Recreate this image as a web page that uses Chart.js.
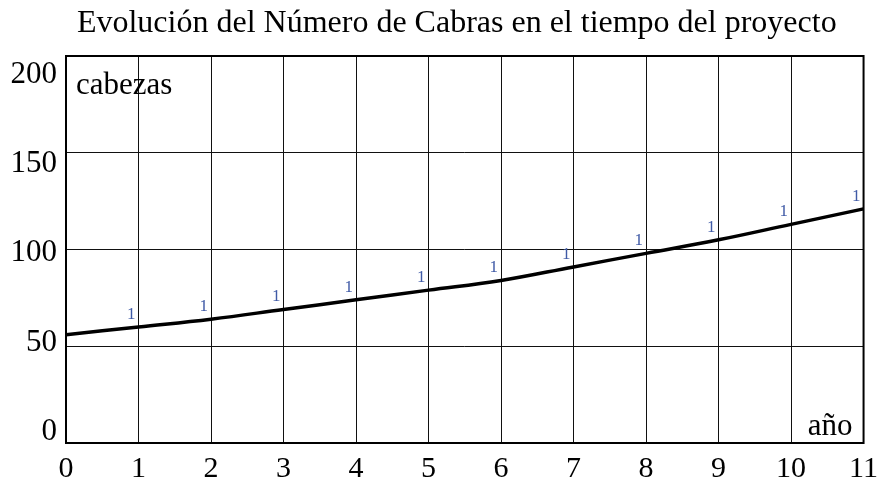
<!DOCTYPE html>
<html><head><meta charset="utf-8">
<script src="https://cdn.jsdelivr.net/npm/chart.js@4/dist/chart.umd.min.js"></script>
<style>html,body{margin:0;padding:0;background:#fff}#c{display:block}</style>
</head><body>
<canvas id="c" width="886" height="481"></canvas>
<script>
const years = [0,1,2,3,4,5,6,7,8,9,10,11];
const cabras = [56,60,64,69,74,79,84,91,98,105,113,121];
const pointLabels = ['', '1','1','1','1','1','1','1','1','1','1','1'];
const yTicks = [0,50,100,150,200];
const titleText = 'Evolución del Número de Cabras en el tiempo del proyecto';
const yAxisName = 'cabezas';
const xAxisName = 'año';

const serif = '"Liberation Serif", "Times New Roman", serif';

const extras = {
  id: 'extras',
  afterDatasetsDraw(chart) {
    const {ctx, chartArea: a, scales: {x, y}} = chart;
    ctx.save();
    ctx.fillStyle = '#3f5aa6';
    ctx.font = '17px ' + serif;
    ctx.textAlign = 'right';
    ctx.textBaseline = 'alphabetic';
    years.forEach((yr, i) => {
      if (!pointLabels[i]) return;
      ctx.fillText(pointLabels[i], x.getPixelForValue(yr) - 3, y.getPixelForValue(cabras[i]) - 8);
    });
    ctx.fillStyle = '#000';
    ctx.font = '31px ' + serif;
    ctx.textAlign = 'left';
    ctx.fillText(yAxisName, a.left + 10, a.top + 38);
    ctx.textAlign = 'right';
    ctx.fillText(xAxisName, a.right - 11, a.bottom - 8);
    ctx.font = '32px ' + serif;
    ctx.textAlign = 'center';
    ctx.fillText(titleText, (a.left + a.right) / 2 - 8, 32);
    ctx.strokeStyle = '#000';
    ctx.lineWidth = 2;
    ctx.strokeRect(a.left, a.top, a.right - a.left, a.bottom - a.top);
    ctx.restore();
  }
};

new Chart(document.getElementById('c'), {
  type: 'line',
  data: {
    datasets: [{
      data: years.map((yr, i) => ({x: yr, y: cabras[i]})),
      borderColor: '#000',
      borderWidth: 3.5,
      pointRadius: 0,
      tension: 0.4,
      fill: false
    }]
  },
  options: {
    responsive: false,
    animation: false,
    devicePixelRatio: 1,
    layout: {padding: {left: 0, right: 21, top: 56, bottom: 0}},
    plugins: {
      legend: {display: false},
      tooltip: {enabled: false},
      title: {display: false}
    },
    scales: {
      x: {
        type: 'linear',
        min: 0, max: 11,
        afterFit(s) { s.height = 38; },
        ticks: {stepSize: 1, color: '#000', font: {family: serif, size: 30}, padding: 8, maxRotation: 0},
        grid: {color: '#111', lineWidth: 1, drawTicks: false},
        border: {display: false}
      },
      y: {
        min: 0, max: 200,
        weight: 1,
        afterFit(s) { s.width = 0; },
        afterBuildTicks(s) { s.ticks = yTicks.map(v => ({value: v})); },
        ticks: {display: false},
        grid: {color: '#111', lineWidth: 1, drawTicks: false},
        border: {display: false}
      },
      yLabels: {
        position: 'left',
        weight: 2,
        min: -6.15, max: 210.35,
        afterFit(s) { s.width = 66; },
        afterBuildTicks(s) { s.ticks = yTicks.map(v => ({value: v})); },
        ticks: {color: '#000', font: {family: serif, size: 31}, padding: 9},
        grid: {display: false, drawTicks: false},
        border: {display: false}
      }
    }
  },
  plugins: [extras]
});
</script>
</body></html>
